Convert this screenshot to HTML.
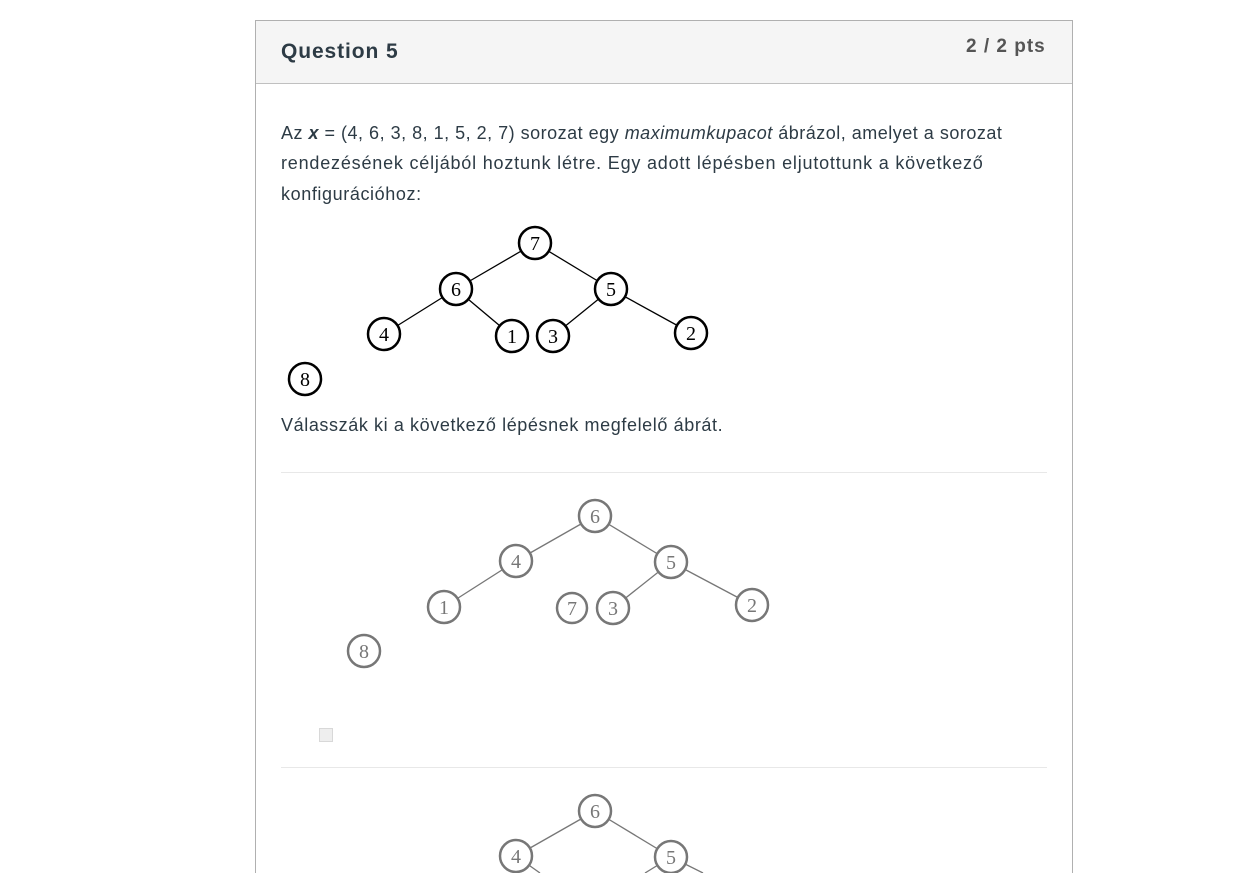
<!DOCTYPE html>
<html><head><meta charset="utf-8"><style>
html,body{margin:0;width:1235px;height:873px;overflow:hidden;background:#fff;}
body{position:relative;font-family:"Liberation Sans",sans-serif;}
.card{position:absolute;left:255px;top:20px;width:816px;height:853px;border:1px solid #b0b0b0;border-bottom:none;}
.hdr{position:absolute;left:0;top:0;right:0;height:62px;background:#f5f5f5;border-bottom:1px solid #c0c0c0;}
.t{position:absolute;color:#2d3b45;font-size:18px;white-space:nowrap;letter-spacing:0.6px;}
svg{position:absolute;left:0;top:0;}
</style></head><body>
<div class="card"><div class="hdr"></div></div>
<div class="t" style="left:281px;top:40px;font-size:21px;font-weight:bold;letter-spacing:0.9px;">Question 5</div>
<div class="t" style="left:966px;top:36px;font-size:19px;font-weight:bold;color:#555;letter-spacing:1px;">2 / 2 pts</div>
<div class="t" style="left:281px;top:123px;letter-spacing:0.5px;">Az <b><i>x</i></b> = (4, 6, 3, 8, 1, 5, 2, 7) sorozat egy <i>maximumkupacot</i> ábrázol, amelyet a sorozat</div>
<div class="t" style="left:281px;top:153px;letter-spacing:0.8px;">rendezésének céljából hoztunk létre. Egy adott lépésben eljutottunk a következő</div>
<div class="t" style="left:281px;top:184px;">konfigurációhoz:</div>
<div class="t" style="left:281px;top:415px;">Válasszák ki a következő lépésnek megfelelő ábrát.</div>
<div style="position:absolute;left:281px;top:472px;width:766px;height:1px;background:#e8e8e8"></div>
<div style="position:absolute;left:281px;top:767px;width:766px;height:1px;background:#e8e8e8"></div>
<div style="position:absolute;left:319px;top:728px;width:12px;height:12px;border:1px solid #d8d8d8;background:#eee"></div>
<svg width="1235" height="873" font-family="Liberation Serif,serif" font-size="20" text-anchor="middle">
<g stroke="#000" stroke-width="1.3">
<line x1="535" y1="243" x2="456" y2="289"/><line x1="535" y1="243" x2="611" y2="289"/>
<line x1="456" y1="289" x2="384" y2="334"/><line x1="456" y1="289" x2="512" y2="336"/>
<line x1="611" y1="289" x2="553" y2="336"/><line x1="611" y1="289" x2="691" y2="333"/>
</g>
<g stroke="#000" stroke-width="2.5" fill="#fff">
<circle cx="535" cy="243" r="16"/><circle cx="456" cy="289" r="16"/><circle cx="611" cy="289" r="16"/>
<circle cx="384" cy="334" r="16"/><circle cx="512" cy="336" r="16"/><circle cx="553" cy="336" r="16"/>
<circle cx="691" cy="333" r="16"/><circle cx="305" cy="379" r="16"/>
</g>
<g fill="#000">
<text x="535" y="250">7</text><text x="456" y="296">6</text><text x="611" y="296">5</text>
<text x="384" y="341">4</text><text x="512" y="343">1</text><text x="553" y="343">3</text>
<text x="691" y="340">2</text><text x="305" y="386">8</text>
</g>
<g stroke="#777" stroke-width="1.3">
<line x1="595" y1="516" x2="516" y2="561"/><line x1="595" y1="516" x2="671" y2="562"/>
<line x1="516" y1="561" x2="444" y2="607"/>
<line x1="671" y1="562" x2="613" y2="608"/><line x1="671" y1="562" x2="752" y2="605"/>
<line x1="595" y1="811" x2="516" y2="856"/><line x1="595" y1="811" x2="671" y2="857"/>
<line x1="516" y1="856" x2="540" y2="873"/>
<line x1="671" y1="857" x2="645" y2="873"/><line x1="671" y1="857" x2="703" y2="873"/>
</g>
<g stroke="#777" stroke-width="2.5" fill="#fff">
<circle cx="595" cy="516" r="16"/><circle cx="516" cy="561" r="16"/><circle cx="671" cy="562" r="16"/>
<circle cx="444" cy="607" r="16"/><circle cx="572" cy="608" r="15"/><circle cx="613" cy="608" r="16"/>
<circle cx="752" cy="605" r="16"/><circle cx="364" cy="651" r="16"/>
<circle cx="595" cy="811" r="16"/><circle cx="516" cy="856" r="16"/><circle cx="671" cy="857" r="16"/>
</g>
<g fill="#777">
<text x="595" y="523">6</text><text x="516" y="568">4</text><text x="671" y="569">5</text>
<text x="444" y="614">1</text><text x="572" y="615">7</text><text x="613" y="615">3</text>
<text x="752" y="612">2</text><text x="364" y="658">8</text>
<text x="595" y="818">6</text><text x="516" y="863">4</text><text x="671" y="864">5</text>
</g>
</svg>
</body></html>
